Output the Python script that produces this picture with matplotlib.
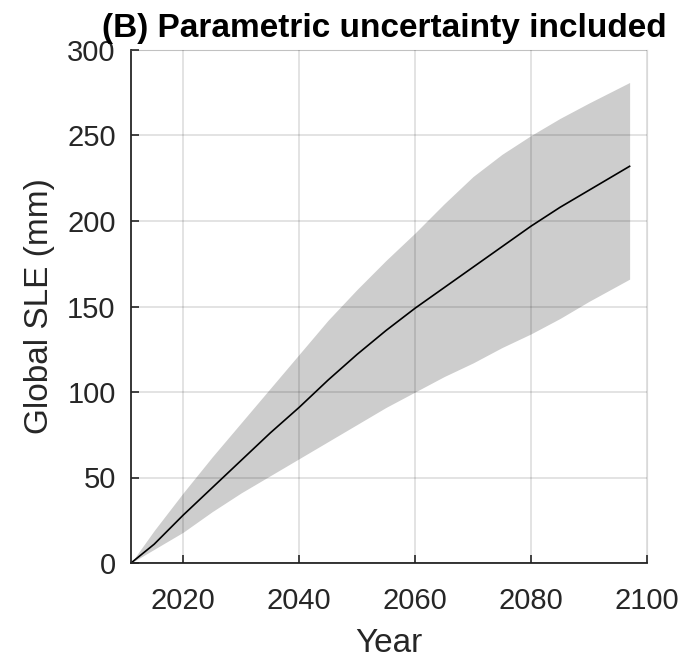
import matplotlib
matplotlib.use("Agg")
import matplotlib.pyplot as plt
import numpy as np

plt.rcParams['font.family'] = ['Liberation Sans', 'DejaVu Sans']

# values (mm of global sea-level equivalent)
years = [2011, 2015, 2020, 2025, 2030, 2035, 2040, 2045, 2050, 2055,
         2060, 2065, 2070, 2075, 2080, 2085, 2090, 2097]
sle_median = [0, 11, 28, 44, 60, 76, 91, 107, 122, 136,
              149, 161, 173, 185, 197, 208, 218, 232]
sle_upper = [0, 19, 41, 62, 82, 102, 122, 142, 160, 177,
             193, 210, 226, 239, 250, 260, 269, 281]
sle_lower = [0, 8, 18, 30, 41, 51, 61, 71, 81, 91,
             100, 109, 117, 126, 134, 143, 153, 166]

xticks = [2020, 2040, 2060, 2080, 2100]
yticks = [0, 50, 100, 150, 200, 250, 300]

dark = '#262626'
W, H = 685, 666
fig = plt.figure(figsize=(W / 100, H / 100), dpi=100)
ax = fig.add_axes([131 / W, 1 - 563 / H, (647 - 131) / W, (563 - 50) / H])

ax.fill_between(years, sle_lower, sle_upper, color='#cdcdcd', linewidth=0)
ax.plot(years, sle_median, color='black', linewidth=1.2)

ax.set_xlim(2011, 2100)
ax.set_ylim(0, 300)
ax.set_xticks(xticks)
ax.set_yticks(yticks)

# matlab-ish box: grid on top, light top/right edges
ax.set_axisbelow(False)
ax.grid(True, color='black', alpha=0.13, linewidth=1.2)
for s in ['top', 'right']:
    ax.spines[s].set_color('#d9d9d9')
for s in ['left', 'bottom']:
    ax.spines[s].set_color(dark)
    ax.spines[s].set_linewidth(1.3)

ax.tick_params(direction='in', length=6, width=1.2, color=dark,
               labelcolor=dark, labelsize=21, top=False, right=False)
ax.tick_params(axis='x', pad=17)
ax.tick_params(axis='y', pad=11)

ax.set_xlabel('Year', fontsize=24, color=dark, labelpad=10)
ax.set_ylabel('Global SLE (mm)', fontsize=24, color=dark, labelpad=9)
ax.set_title('(B) Parametric uncertainty included', fontsize=24,
             fontweight='bold', pad=9, x=0.49)

fig.savefig('out.png', dpi=100)
